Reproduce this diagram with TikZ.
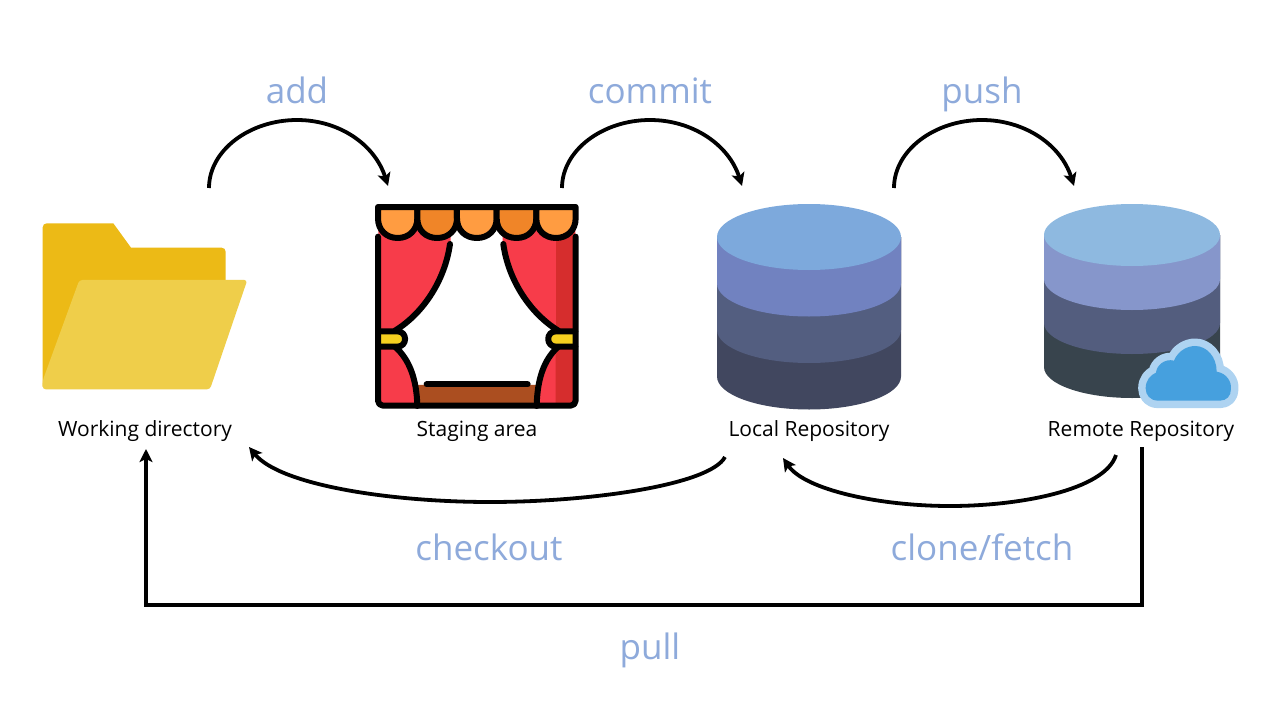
\documentclass[tikz,border=0pt]{standalone}
\usepackage{fontspec}
\setmainfont{Open Sans}
\usetikzlibrary{arrows.meta}
\definecolor{lab}{HTML}{8EAADB}
\definecolor{foldB}{HTML}{ECBA16}
\definecolor{foldF}{HTML}{EFCE4A}
\definecolor{cred}{HTML}{F73C4A}
\definecolor{cdark}{HTML}{D62D2D}
\definecolor{corA}{HTML}{FF9C41}
\definecolor{corB}{HTML}{F08528}
\definecolor{cbrown}{HTML}{AB4E20}
\definecolor{cyel}{HTML}{F5CF1F}
\definecolor{la}{HTML}{7DA9DC}
\definecolor{lb}{HTML}{7182C0}
\definecolor{lc}{HTML}{535E80}
\definecolor{ld}{HTML}{41475F}
\definecolor{ra}{HTML}{8EB9E0}
\definecolor{rb}{HTML}{8696CB}
\definecolor{rc}{HTML}{535D7E}
\definecolor{rd}{HTML}{38444D}
\definecolor{cloudO}{HTML}{AED3F1}
\definecolor{cloudI}{HTML}{46A0DE}
\tikzset{
  flow/.style={draw=black,line width=3.8pt,-{Stealth[length=13pt,width=13pt,inset=3pt]}},
  cmd/.style={text=lab,font=\fontsize{35}{38}\selectfont,inner sep=0pt,anchor=base},
  caption/.style={text=black,font=\fontsize{21}{24}\selectfont,inner sep=0pt,anchor=base},
  ink/.style={draw=black,line width=6pt,line cap=round,line join=round},
}
% #1 cx, #2 rx, #3 ry, #4 y of top ellipse centre, #5 layer step, #6..#9 colours
\newcommand{\dbstack}[9]{%
  \fill[#9] (#1-#2,#4) -- (#1-#2,#4+3*#5) arc[start angle=180,end angle=360,x radius=#2,y radius=-#3] -- (#1+#2,#4) -- cycle;
  \fill[#8] (#1-#2,#4) -- (#1-#2,#4+2*#5) arc[start angle=180,end angle=360,x radius=#2,y radius=-#3] -- (#1+#2,#4) -- cycle;
  \fill[#7] (#1-#2,#4) -- (#1-#2,#4+#5) arc[start angle=180,end angle=360,x radius=#2,y radius=-#3] -- (#1+#2,#4) -- cycle;
  \fill[#6] (#1,#4) ellipse[x radius=#2,y radius=#3];
}
\begin{document}
\begin{tikzpicture}[x=1pt,y=-1pt]
\useasboundingbox (0,0) rectangle (1280,720);
\fill[white] (0,0) rectangle (1280,720);

% folder
\begin{scope}[shift={(30,210)},x=.3333pt,y=-.3333pt]
\fill[foldB] (38,530) [rounded corners=4pt] -- (38,40) [sharp corners] -- (250,40) -- (303,113) [rounded corners=4pt] -- (587,113) [sharp corners] -- (587,300) -- cycle;
\fill[foldF,rounded corners=3pt] (148,210) -- (652,210) -- (540,538) -- (38,538) -- (38,512) -- cycle;
\end{scope}

% curtain
\begin{scope}[shift={(360,190)},x=.3333pt,y=-.3333pt]
\fill[cred] (55,120) -- (272,120) -- (272,160) .. controls (255,270) and (190,370) .. (105,422) -- (55,422) -- cycle;
\fill[cred] (428,120) -- (646,120) -- (646,422) -- (595,422) .. controls (510,370) and (445,270) .. (428,160) -- cycle;
\fill[cdark] (587,120) -- (646,120) -- (646,422) -- (587,422) -- cycle;
\fill[cred] (55,470) -- (105,470) .. controls (150,510) and (170,570) .. (172,648) -- (55,648) -- cycle;
\fill[cred] (530,648) .. controls (532,570) and (550,510) .. (590,470) -- (646,470) -- (646,648) -- cycle;
\fill[cdark] (587,478) -- (590,470) -- (646,470) -- (646,648) -- (587,648) -- cycle;
\fill[cbrown] (172,585) -- (530,585) -- (524,648) -- (176,648) -- cycle;
\draw[ink] (270,162) .. controls (255,270) and (190,370) .. (105,422);
\draw[ink] (430,162) .. controls (445,270) and (510,370) .. (595,422);
\draw[ink] (105,470) .. controls (150,510) and (170,570) .. (172,648);
\draw[ink] (595,470) .. controls (550,510) and (532,570) .. (530,648);
\draw[ink] (200,583) -- (503,583);
\draw[ink,fill=cyel] (54,424) -- (112,424) .. controls (143,424) and (143,470) .. (112,470) -- (54,470);
\draw[ink,fill=cyel] (646,424) -- (588,424) .. controls (557,424) and (557,470) .. (588,470) -- (646,470);
\draw[ink,rounded corners=5pt] (54,140) -- (54,647) -- (647,647) -- (647,140);
\foreach \xa/\xb/\c in {54/172/corA,172/291/corB,291/410/corA,410/529/corB,529/647/corA}{
  \draw[ink,fill=\c] (\xa,51) -- (\xa,85) .. controls (\xa,120) and ({\xa+25},144) .. ({(\xa+\xb)/2},144) .. controls ({\xb-25},144) and (\xb,120) .. (\xb,85) -- (\xb,51) -- cycle;
}
\end{scope}

% local repository
\dbstack{809}{92}{33}{237}{46.5}{la}{lb}{lc}{ld}
% remote repository
\dbstack{1132}{88}{31}{235}{44}{ra}{rb}{rc}{rd}

% cloud
\begin{scope}[shift={(1030,190)},x=.3333pt,y=-.3333pt]
\def\cloudpath{(385,632) .. controls (360,632) and (347,615) .. (347,595) .. controls (347,570) and (362,555) .. (378,548) .. controls (380,525) and (405,505) .. (432,512) .. controls (445,480) and (475,468) .. (495,468) .. controls (530,468) and (560,500) .. (560,545) .. controls (590,550) and (605,575) .. (603,597) .. controls (603,618) and (590,632) .. (570,632) -- cycle}
\draw[cloudO,line width=15pt,line join=round] \cloudpath;
\fill[cloudI] \cloudpath;
\end{scope}

% captions
\node[caption] (wd) at (145,436) {Working directory};
\node[caption] (sa) at (477,436) {Staging area};
\node[caption] (lr) at (809,436) {Local Repository};
\node[caption] (rr) at (1141,436) {Remote Repository};

% commands
\node[cmd] (add) at (297,103) {add};
\node[cmd] (commit) at (650,103) {commit};
\node[cmd] (push) at (982,103) {push};
\node[cmd] (checkout) at (489,560) {checkout};
\node[cmd] (clone) at (982,560) {clone/fetch};
\node[cmd] (pull) at (650,659) {pull};

% connector ends
\coordinate (wdTop) at (209,188);
\coordinate (saIn) at (388,186);
\coordinate (saTop) at (562,188);
\coordinate (lrIn) at (742,186);
\coordinate (lrTop) at (894,188);
\coordinate (rrIn) at (1074,186);
\coordinate (lrOut) at (725,457);
\coordinate (wdIn) at (249,447);
\coordinate (rrOut) at (1116,455);
\coordinate (lrBack) at (783,458);
\coordinate (rrPull) at (1142,447);
\coordinate (wdPull) at (146,449);

\draw[flow] (wdTop) .. controls (209,150) and (250,120) .. (297,120) .. controls (340,120) and (375,145) .. (saIn);
\draw[flow] (saTop) .. controls (562,150) and (603,120) .. (650,120) .. controls (693,120) and (729,145) .. (lrIn);
\draw[flow] (lrTop) .. controls (894,150) and (935,120) .. (982,120) .. controls (1025,120) and (1061,145) .. (rrIn);
\draw[flow] (lrOut) .. controls (710,485) and (590,502) .. (490,502) .. controls (390,502) and (280,485) .. (wdIn);
\draw[flow] (rrOut) .. controls (1105,490) and (1020,506) .. (950,506) .. controls (880,506) and (805,490) .. (lrBack);
\draw[flow] (rrPull) -- (1142,605) -- (146,605) -- (wdPull);
\end{tikzpicture}
\end{document}
